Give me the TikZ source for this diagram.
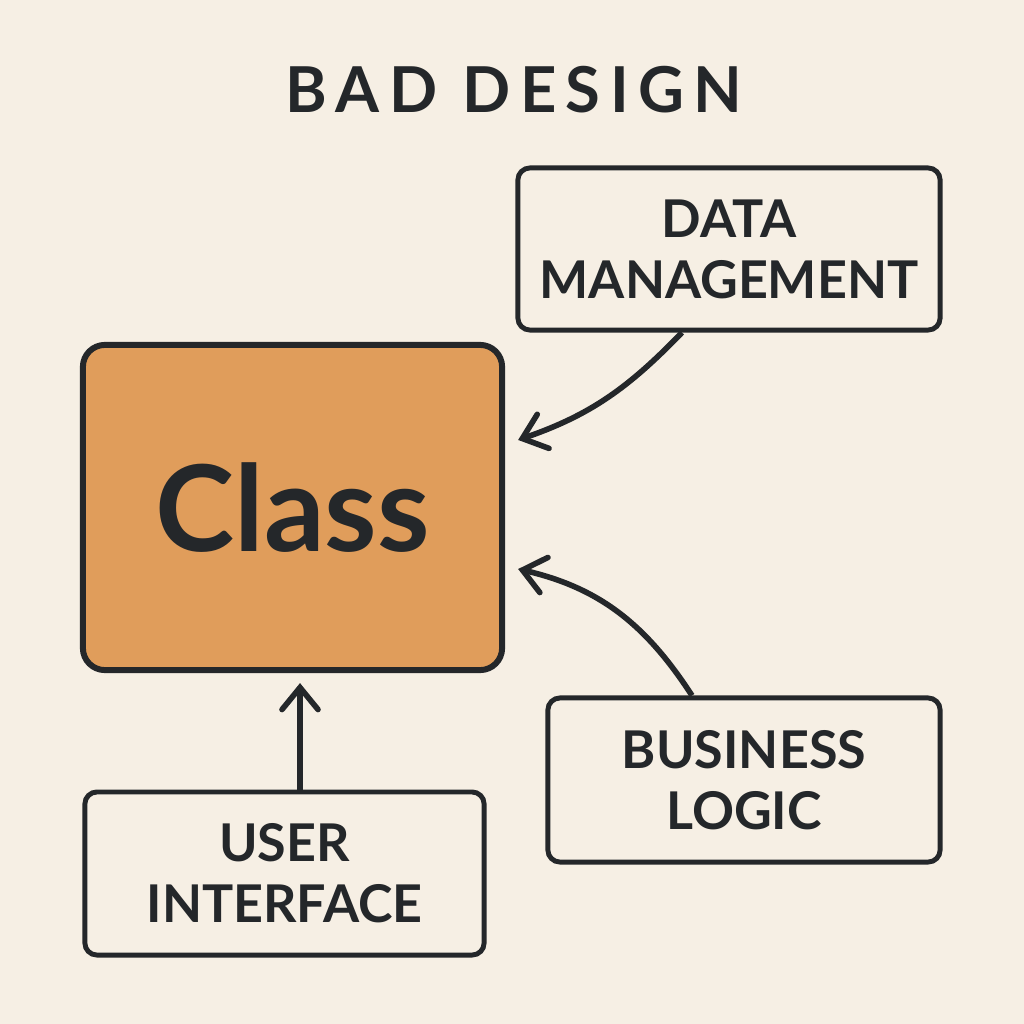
\documentclass[tikz,border=0pt]{standalone}
\usepackage{fontspec}
\setmainfont{Lato}
\usetikzlibrary{arrows.meta, positioning}

\definecolor{paper}{HTML}{F6EFE4}
\definecolor{ink}{HTML}{24272A}
\definecolor{classfill}{HTML}{E09D5B}

\begin{document}
\begin{tikzpicture}[
		x=0.01cm, y=-0.01cm,
		module/.style={draw=ink, line width=1.4pt, rounded corners=0.12cm,
			fill=paper, text=ink, align=center,
			font=\fontsize{14.8}{17.4}\selectfont\bfseries},
		arr/.style={draw=ink, line width=1.6pt,
			-{Straight Barb[length=0.22cm, width=0.36cm, line cap=round]}}
	]
	\fill[paper] (0,0) rectangle (1024,1024);
	\useasboundingbox (0,0) rectangle (1024,1024);

	\node[text=ink, font=\fontsize{18}{20}\selectfont\bfseries\addfontfeature{LetterSpace=15}] (title) at (514,90) {BAD DESIGN};

	\node[draw=ink, line width=1.7pt, rounded corners=0.22cm, fill=classfill,
		minimum width=4.19cm, minimum height=3.25cm, text=ink,
		font=\fontsize{34}{36}\selectfont\bfseries
	] (cls) at (292.5,507.5) {Class};

	\node[module, minimum width=4.22cm, minimum height=1.62cm] (data) at (729,249) {DATA\\MANAGEMENT};
	\node[module, minimum width=3.92cm, minimum height=1.64cm] (logic) at (744,780) {BUSINESS\\LOGIC};
	\node[module, minimum width=3.99cm, minimum height=1.63cm] (ui) at (284.5,873.5) {USER\\INTERFACE};

	\draw[arr] ([xshift=-0.47cm]data.south) to[out=226, in=19] ([xshift=0.13cm, yshift=0.675cm]cls.east);
	\draw[arr] ([xshift=-0.52cm]logic.north) to[out=123, in=347] ([xshift=0.13cm, yshift=-0.615cm]cls.east);
	\draw[arr] ([xshift=0.155cm]ui.north) -- ([xshift=0.155cm, yshift=-0.1cm]ui.north |- cls.south);
\end{tikzpicture}
\end{document}
